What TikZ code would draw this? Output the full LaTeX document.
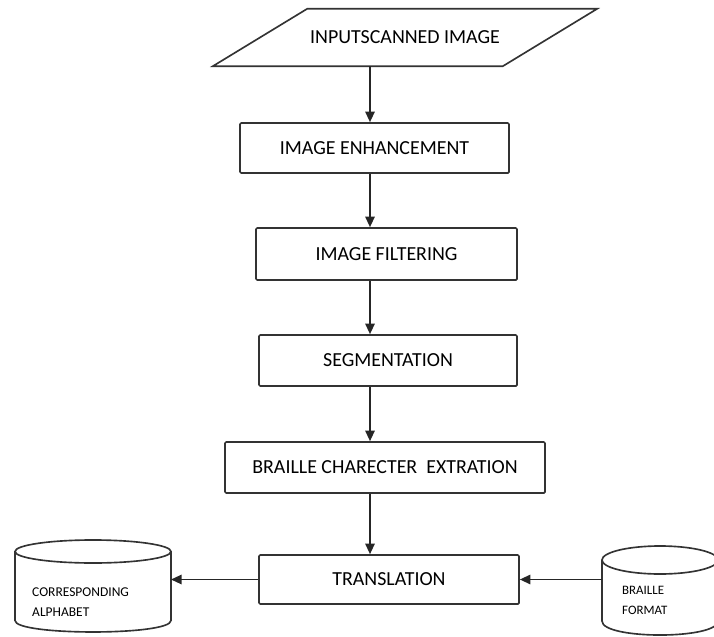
\documentclass[tikz,border=0pt]{standalone}
\usepackage{fontspec}
\setmainfont{Carlito}
\usetikzlibrary{arrows.meta,positioning}

\tikzset{
	stepbox/.style={draw=black!80, line width=1.4pt, rounded corners=1pt, font=\fontsize{17}{20}\selectfont},
	flow/.style={draw=black!85, line width=1.4pt, -{Triangle[width=8pt,length=9pt]}},
	dbline/.style={draw=black!80, line width=1.4pt},
	dbtext/.style={font=\fontsize{11.5}{17}\selectfont, align=left, inner sep=0pt, anchor=west}
}

\begin{document}
\begin{tikzpicture}[x=0.03cm,y=-0.03cm]
	\useasboundingbox (0,0) rectangle (714,637);
	\clip (0,0) rectangle (714,637);
	\node[minimum width=11.52cm, minimum height=1.71cm, font=\fontsize{17}{20}\selectfont] (input) at (405,37.5) {INPUTSCANNED IMAGE};
	\draw[dbline] (input.south west) -- ++(290,0) -- (input.north east) -- ++(-290,0) -- cycle;
	\node[stepbox, minimum width=8.07cm, minimum height=1.5cm] (enh) at (374.5,148) {IMAGE ENHANCEMENT};
	\node[stepbox, minimum width=7.83cm, minimum height=1.56cm] (filt) at (386.5,254) {IMAGE FILTERING};
	\node[stepbox, minimum width=7.74cm, minimum height=1.53cm] (seg) at (388,360.5) {SEGMENTATION};
	\node[stepbox, minimum width=9.6cm, minimum height=1.53cm] (extr) at (385,467.5) {BRAILLE CHARECTER\ \ EXTRATION};
	\node[stepbox, minimum width=7.8cm, minimum height=1.47cm] (trans) at (389,579.5) {TRANSLATION};
	\coordinate (spine) at (370,0);
	\draw[flow] (input.south -| spine) -- (enh.north -| spine);
	\draw[flow] (enh.south -| spine) -- (filt.north -| spine);
	\draw[flow] (filt.south -| spine) -- (seg.north -| spine);
	\draw[flow] (seg.south -| spine) -- (extr.north -| spine);
	\draw[flow] (extr.south -| spine) -- (trans.north -| spine);
	\draw[dbline] (15,551.5) -- (15,620.5) .. controls (15,635.8) and (171,635.8) .. (171,620.5) -- (171,551.5);
	\draw[dbline] (93,551.5) ellipse (78 and 11.5);
	\node[dbtext] (alpha) at (32,602) {CORRESPONDING\\ALPHABET};
	\coordinate (alphaside) at (171,0);
	\draw[flow] (trans.west) -- (trans.west -| alphaside);
	\draw[dbline] (602,560) -- (602,621) .. controls (602,639.7) and (718,639.7) .. (718,621) -- (718,560);
	\draw[dbline] (660,560) ellipse (58 and 14);
	\node[dbtext, font=\fontsize{11}{17}\selectfont] (fmt) at (622,600) {BRAILLE\\FORMAT};
	\coordinate (fmtside) at (602,0);
	\draw[flow] (trans.east -| fmtside) -- (trans.east);
\end{tikzpicture}
\end{document}
